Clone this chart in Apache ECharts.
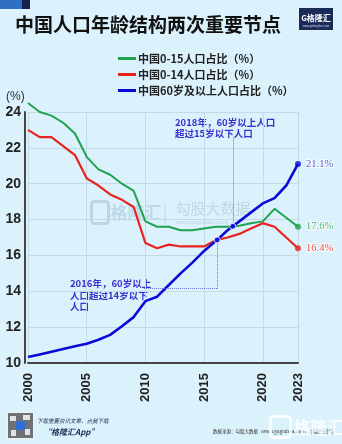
<!DOCTYPE html>
<html><head><meta charset="utf-8">
<script src="https://cdn.jsdelivr.net/npm/echarts@6/dist/echarts.min.js"></script>
<style>html,body{margin:0;padding:0;background:#dbf1fb;}#c{width:342px;height:444px;}</style>
</head><body><div id="c"></div>
<script>
const years = [2000,2001,2002,2003,2004,2005,2006,2007,2008,2009,2010,2011,2012,2013,2014,2015,2016,2017,2018,2019,2020,2021,2022,2023];
const share0to15 = [24.5,24.0,23.8,23.4,22.8,21.5,20.8,20.5,20.0,19.6,17.9,17.6,17.6,17.4,17.4,17.5,17.6,17.6,17.65,17.8,17.9,18.6,18.1,17.6];
const share0to14 = [23.0,22.6,22.6,22.1,21.6,20.3,19.9,19.4,19.1,18.7,16.7,16.4,16.6,16.5,16.5,16.5,16.85,17.0,17.2,17.5,17.8,17.6,17.0,16.4];
const share60plus = [10.33,10.48,10.63,10.78,10.93,11.07,11.3,11.57,12.05,12.56,13.45,13.7,14.35,15.0,15.6,16.25,16.8,17.4,17.9,18.4,18.9,19.2,19.9,21.1];
const seriesNames = ['中国0-15人口占比（%）','中国0-14人口占比（%）','中国60岁及以上人口占比（%）'];
const xTicks = [2000,2005,2010,2015,2020,2023];
const yTicks = [10,12,14,16,18,20,22,24];
const notes = ['2018年，60岁以上人口\n超过15岁以下人口','2016年，60岁以上\n人口超过14岁以下\n人口'];

const GREEN='#1fa34e', RED='#e8231f', BLUE='#0a0ad8', NOTE='#3a2fd0';
const F='"Noto Sans CJK SC","Liberation Sans",sans-serif';

function pairs(arr){ return years.map((y,i)=>[y,arr[i]]); }
function crossing(a,b){
  for(let i=1;i<years.length;i++){
    const d0=a[i-1]-b[i-1], d1=a[i]-b[i];
    if(d0<0 && d1>=0){
      const t=d0/(d0-d1);
      return [years[i-1]+t*(years[i]-years[i-1]), a[i-1]+t*(a[i]-a[i-1])];
    }
  }
  return null;
}
const c16 = crossing(share60plus, share0to14);
const c18 = crossing(share60plus, share0to15);
const last = years.length-1;

const chart = echarts.init(document.getElementById('c'), null, {renderer:'canvas'});
const dotLine = {color:'#6a74d8', width:1, type:'dotted'};
chart.setOption({
  backgroundColor:'#dbf1fb',
  animation:false,
  textStyle:{fontFamily:F},
  grid:{left:28, right:44, top:112, bottom:81, containLabel:false},
  legend:{
    data:seriesNames, orient:'vertical', left:113, top:48,
    icon:'rect', itemWidth:18, itemHeight:3, itemGap:5,
    textStyle:{fontSize:11, fontWeight:'bold', color:'#222', fontFamily:F, padding:[0,0,0,-3]}
  },
  xAxis:{
    type:'value', min:2000, max:2023, interval:5,
    axisLine:{show:true, lineStyle:{color:'#444', width:2}},
    axisTick:{show:false},
    splitLine:{show:true, lineStyle:{color:'#c2dae6', width:1}},
    axisLabel:{rotate:90, margin:10, fontSize:13, fontWeight:'bold', color:'#222', fontFamily:'"Liberation Sans",Arial,sans-serif',
      formatter:v=> xTicks.indexOf(v)>=0 ? String(v) : ''}
  },
  yAxis:{
    type:'value', min:10, max:24, interval:2, offset:3,
    axisLine:{show:true, lineStyle:{color:'#444', width:2}},
    axisTick:{show:false},
    splitLine:{show:true, lineStyle:{color:'#c2dae6', width:1}},
    axisLabel:{margin:4, fontSize:14, fontWeight:'bold', color:'#222', fontFamily:'"Liberation Sans",Arial,sans-serif',
      formatter:v=> yTicks.indexOf(v)>=0 ? String(v) : ''}
  },
  series:[
    {name:seriesNames[0], type:'line', data:pairs(share0to15), showSymbol:false, clip:false,
     lineStyle:{color:GREEN, width:2}, itemStyle:{color:GREEN}, z:3},
    {name:seriesNames[1], type:'line', data:pairs(share0to14), showSymbol:false, clip:false,
     lineStyle:{color:RED, width:2.2}, itemStyle:{color:RED}, z:3},
    {name:seriesNames[2], type:'line', data:pairs(share60plus), showSymbol:false, clip:false,
     lineStyle:{color:BLUE, width:2.6}, itemStyle:{color:BLUE}, z:4,
     markLine:{silent:true, symbol:'none', label:{show:false}, lineStyle:dotLine,
       data:[
         [{coord:[c18[0], c18[1]]},{coord:[c18[0], 22.6]}],
         [{coord:[c16[0], c16[1]]},{coord:[c16[0], 14.15]}],
         [{coord:[c16[0], 14.15]},{coord:[2009.8, 14.15]}]
       ]}
    },
    {type:'scatter', symbolSize:6, z:6, clip:false,
     data:[
       {value:[years[last], share60plus[last]], itemStyle:{color:BLUE}, label:{color:'#2a2ad0'}},
       {value:[years[last], share0to15[last]], itemStyle:{color:GREEN}, label:{color:GREEN}},
       {value:[years[last], share0to14[last]], itemStyle:{color:RED}, label:{color:RED}}
     ],
     label:{show:true, position:'right', distance:5, fontSize:10.5, fontFamily:'"Liberation Serif",serif',
       textBorderColor:'#ffffff', textBorderWidth:2,
       formatter:p=>p.value[1].toFixed(1)+'%'}
    },
    {type:'scatter', symbolSize:6, z:6, clip:false,
     itemStyle:{color:BLUE, borderColor:'#fff', borderWidth:1},
     data:[c16, c18]}
  ],
  graphic:[
    {type:'rect', left:0, top:0, shape:{width:22,height:9}, style:{fill:'#2f6fc4'}},
    {type:'rect', left:22, top:0, shape:{width:8,height:9}, style:{fill:'#14224a'}},
    {type:'text', left:15, top:15, style:{text:'中国人口年龄结构两次重要节点', font:'bold 19px '+F, fill:'#111'}},
    {type:'group', left:298, top:7, children:[
      {type:'rect', shape:{x:0,y:0,width:35,height:23}, style:{fill:'#1b2b58', stroke:'#e8eef8', lineWidth:1}},
      {type:'text', style:{x:17.5, y:10, text:'G格隆汇', font:'bold 8px '+F, fill:'#fff', align:'center', verticalAlign:'middle'}},
      {type:'text', style:{x:17.5, y:19, text:'www.gelonghui.com', font:'3px sans-serif', fill:'#cfd8ea', align:'center', verticalAlign:'middle'}}
    ]},
    {type:'text', left:6, top:91, style:{text:'(%)', font:'12px "Liberation Sans",sans-serif', fill:'#333'}},
    {type:'text', left:175, top:117, style:{text:notes[0], font:'bold 9.5px '+F, fill:NOTE, lineHeight:11}},
    {type:'text', left:70, top:278, style:{text:notes[1], font:'bold 9.5px '+F, fill:NOTE, lineHeight:11.5}},
    {type:'group', left:89, top:199, silent:true, z:-1, children:[
      {type:'rect', shape:{x:0,y:0,width:17,height:22,r:3}, style:{fill:'none', stroke:'rgba(150,180,205,0.45)', lineWidth:3}},
      {type:'text', style:{x:19, y:11, text:'格隆汇', font:'bold 17px '+F, fill:'rgba(150,180,205,0.4)', verticalAlign:'middle'}},
      {type:'rect', shape:{x:73,y:1,width:1,height:22}, style:{fill:'rgba(150,180,205,0.4)'}},
      {type:'text', style:{x:84, y:7, text:'勾股大数据', font:'15px '+F, fill:'rgba(150,180,205,0.4)', verticalAlign:'middle'}},
      {type:'text', style:{x:84, y:21, text:'www.gogudata.com', font:'6px sans-serif', fill:'rgba(150,180,205,0.45)', verticalAlign:'middle'}}
    ]},
    {type:'group', left:7, top:412, children:[
      {type:'rect', shape:{x:0,y:0,width:27,height:27}, style:{fill:'#f2f2f2'}},
      {type:'rect', shape:{x:1,y:1,width:25,height:25}, style:{fill:'#6e7276'}},
      {type:'rect', shape:{x:3,y:4,width:6,height:5}, style:{fill:'#e4e4e4'}},
      {type:'rect', shape:{x:16,y:3,width:7,height:5}, style:{fill:'#e4e4e4'}},
      {type:'rect', shape:{x:4,y:18,width:5,height:6}, style:{fill:'#e4e4e4'}},
      {type:'rect', shape:{x:18,y:17,width:5,height:6}, style:{fill:'#e4e4e4'}},
      {type:'rect', shape:{x:9,y:9,width:9,height:9,r:1.5}, style:{fill:'#2f6fd8'}}
    ]},
    {type:'text', left:37, top:418, style:{text:'下载重要资讯文章，点我下载', font:'italic 5.5px '+F, fill:'#1d2b55'}},
    {type:'text', left:43, top:428, style:{text:'“格隆汇App”', font:'italic bold 8px '+F, fill:'#1d2b55'}},
    {type:'text', left:213, top:429, style:{text:'数据来源：勾股大数据（www.gogudata.com），国家统计局', font:'4.5px '+F, fill:'#333'}},
    {type:'group', left:268, top:414, children:[
      {type:'rect', shape:{x:0,y:0,width:20,height:21,r:3}, style:{fill:'none', stroke:'rgba(255,255,255,0.85)', lineWidth:3}},
      {type:'text', style:{x:23, y:11, text:'格隆汇', font:'bold 17px '+F, fill:'rgba(255,255,255,0.85)', verticalAlign:'middle'}}
    ]}
  ]
});
</script></body></html>
